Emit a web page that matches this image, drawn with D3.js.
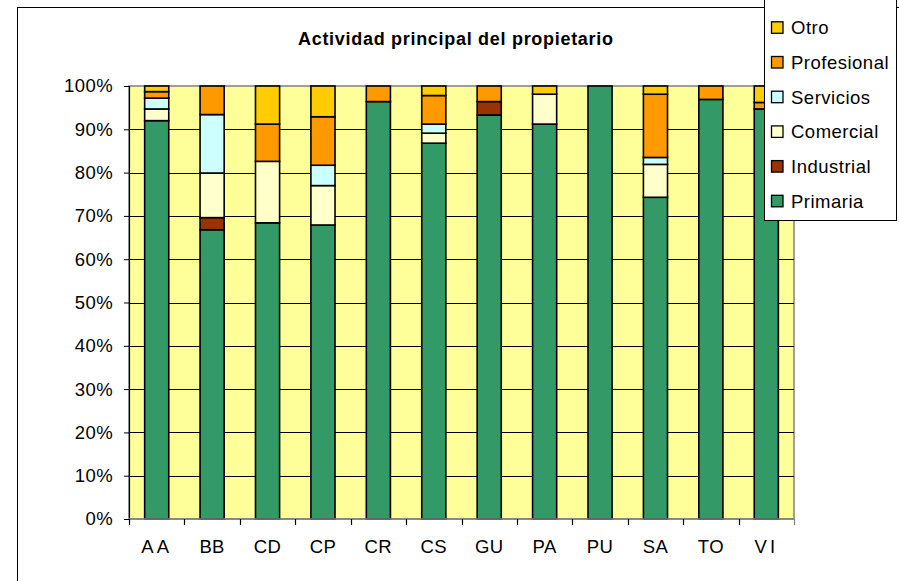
<!DOCTYPE html>
<html>
<head>
<meta charset="utf-8">
<script src="https://cdn.jsdelivr.net/npm/d3@7/dist/d3.min.js"></script>
<style>
  body { margin: 0; background: #fff; }
  svg { display: block; font-family: Arial, "Liberation Sans", sans-serif; }
</style>
</head>
<body>
<svg id="chart" width="899" height="581"></svg>
<script>
// categories and series, bottom of stack first
const categories = ['AA', 'BB', 'CD', 'CP', 'CR', 'CS', 'GU', 'PA', 'PU', 'SA', 'TO', 'VI'];
const seriesNames = ['Primaria', 'Industrial', 'Comercial', 'Servicios', 'Profesional', 'Otro'];
const seriesColors = ['#339966', '#993300', '#FFFFCC', '#CCFFFF', '#FF9900', '#FFCC00'];

const primaria    = [92.0, 66.8, 68.4, 67.9, 96.4, 86.8, 93.3, 91.2, 100, 74.3, 96.9, 94.7];
const industrial  = [0,    2.8,  0,    0,    0,    0,    3.1,  0,    0,   0,    0,    0];
const comercial   = [2.7,  10.3, 14.2, 9.1,  0,    2.3,  0,    6.9,  0,   7.6,  0,    0];
const servicios   = [2.5,  13.5, 0,    4.7,  0,    2.1,  0,    0,    0,   1.6,  0,    0];
const profesional = [1.5,  6.6,  8.6,  11.2, 3.6,  6.6,  3.6,  0,    0,   14.6, 3.1,  1.5];
const otro        = [1.3,  0,    8.8,  7.1,  0,    2.2,  0,    1.9,  0,   1.9,  0,    3.8];

const yTicks = [0, 0.1, 0.2, 0.3, 0.4, 0.5, 0.6, 0.7, 0.8, 0.9, 1];
const title = 'Actividad principal del propietario';

const seriesValues = [primaria, industrial, comercial, servicios, profesional, otro];

const rows = categories.map((c, i) => {
  const row = { cat: c };
  seriesNames.forEach((s, j) => { row[s] = seriesValues[j][i]; });
  return row;
});

const stacked = d3.stack().keys(seriesNames).offset(d3.stackOffsetExpand)(rows);

const svg = d3.select('#chart');
const plot = { left: 129, top: 86, right: 794, bottom: 519 };

// outer chart frame
svg.append('rect')
  .attr('x', 17.5).attr('y', 7.5)
  .attr('width', 1000).attr('height', 1000)
  .attr('fill', '#fff').attr('stroke', '#000').attr('stroke-width', 1);

const x = d3.scaleBand()
  .domain(categories)
  .range([plot.left, plot.right])
  .paddingInner(0.565)
  .paddingOuter(0.2825);

const y = d3.scaleLinear()
  .domain([0, 1])
  .range([plot.bottom, plot.top]);

// plot area
svg.append('rect')
  .attr('x', plot.left).attr('y', plot.top)
  .attr('width', plot.right - plot.left).attr('height', plot.bottom - plot.top)
  .attr('fill', '#FFFF99').attr('stroke', '#808080').attr('stroke-width', 1.5);

// gridlines
svg.append('g')
  .selectAll('line')
  .data(yTicks.slice(1, -1))
  .enter().append('line')
  .attr('x1', plot.left).attr('x2', plot.right)
  .attr('y1', d => Math.round(y(d)) + 0.5).attr('y2', d => Math.round(y(d)) + 0.5)
  .attr('stroke', '#000').attr('stroke-width', 1.2);

// bars
svg.append('g')
  .selectAll('g')
  .data(stacked)
  .enter().append('g')
  .attr('fill', (d, i) => seriesColors[i])
  .selectAll('rect')
  .data(d => d.filter(p => p[1] - p[0] > 0))
  .enter().append('rect')
  .attr('x', d => x(d.data.cat))
  .attr('y', d => y(d[1]))
  .attr('width', x.bandwidth())
  .attr('height', d => y(d[0]) - y(d[1]))
  .attr('stroke', '#000')
  .attr('stroke-width', 1.6);

// y axis
const yAxis = d3.axisLeft(y)
  .tickValues(yTicks)
  .tickFormat(d3.format('.0%'))
  .tickSize(5)
  .tickPadding(11);

const yg = svg.append('g')
  .attr('transform', `translate(${plot.left},0)`)
  .call(yAxis);
yg.select('.domain').attr('stroke', '#000').attr('stroke-width', 1.2);
yg.selectAll('.tick line').attr('stroke', '#000');
yg.selectAll('text').attr('font-size', 18.5).attr('fill', '#000')
  .attr('letter-spacing', 0.4)
  .attr('font-family', 'Arial, "Liberation Sans", sans-serif');

// x axis: ticks at category boundaries
const boundaries = categories.map(c => x(c) - (x.step() * x.paddingInner()) / 2).concat([plot.right]);
const xg = svg.append('g');
xg.append('line')
  .attr('x1', plot.left).attr('x2', plot.right)
  .attr('y1', plot.bottom).attr('y2', plot.bottom)
  .attr('stroke', '#808080').attr('stroke-width', 1.5);
xg.selectAll('.xtick')
  .data(boundaries)
  .enter().append('line')
  .attr('class', 'xtick')
  .attr('x1', d => Math.round(d) + 0.5).attr('x2', d => Math.round(d) + 0.5)
  .attr('y1', plot.bottom).attr('y2', plot.bottom + 6)
  .attr('stroke', (d, i) => (i === boundaries.length - 1 ? '#808080' : '#000'))
  .attr('stroke-width', 1.2);
xg.selectAll('.xlabel')
  .data(categories)
  .enter().append('text')
  .attr('class', 'xlabel')
  .attr('x', d => x(d) + x.bandwidth() / 2)
  .attr('y', 553)
  .attr('text-anchor', 'middle')
  .attr('font-size', 18.5)
  .attr('letter-spacing', d => (d === 'AA' || d === 'VI' ? 3 : 0.4))
  .text(d => d);

// title
svg.append('text')
  .attr('x', 455.5)
  .attr('y', 45)
  .attr('text-anchor', 'middle')
  .attr('font-size', 18)
  .attr('font-weight', 'bold')
  .attr('textLength', 315)
  .attr('lengthAdjust', 'spacing')
  .text(title);

// legend (top item is last series)
const legend = svg.append('g');
legend.append('rect')
  .attr('x', 764.5).attr('y', -2)
  .attr('width', 132).attr('height', 222.5)
  .attr('fill', '#fff').attr('stroke', '#000').attr('stroke-width', 1);

const legendItems = seriesNames.map((n, i) => ({ name: n, color: seriesColors[i] })).reverse();
const item = legend.selectAll('.item')
  .data(legendItems)
  .enter().append('g')
  .attr('class', 'item')
  .attr('transform', (d, i) => `translate(0,${27.8 + i * 34.7})`);
item.append('rect')
  .attr('x', 771.5).attr('y', -6)
  .attr('width', 11.5).attr('height', 11.5)
  .attr('fill', d => d.color)
  .attr('stroke', '#000').attr('stroke-width', 1.3);
item.append('text')
  .attr('x', 791)
  .attr('y', 6.5)
  .attr('font-size', 18.5)
  .attr('letter-spacing', 0.5)
  .text(d => d.name);
</script>
</body>
</html>
